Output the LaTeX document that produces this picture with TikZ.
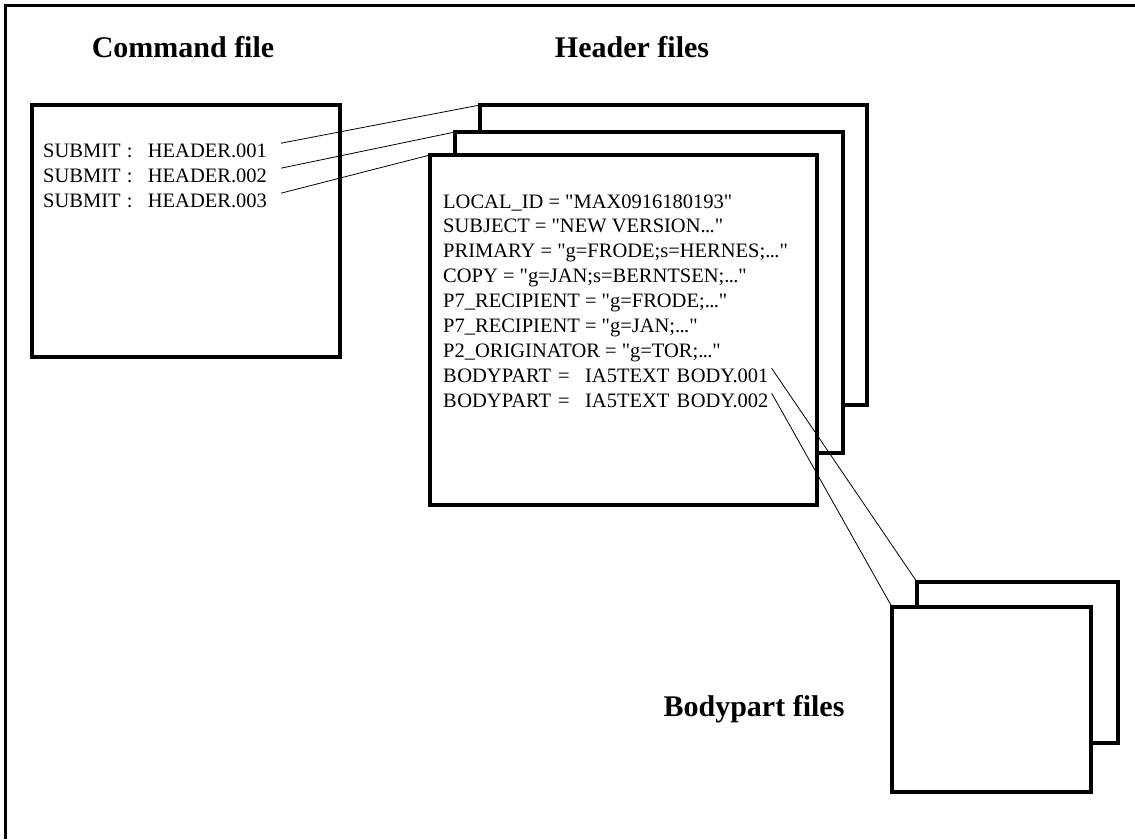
\documentclass[tikz,border=0pt]{standalone}
\usepackage{fontspec}
\setmainfont{Liberation Serif}[Ligatures=TeXOff]
\tikzset{
  filebox/.style={draw, line width=4pt, fill=white, inner sep=0pt, outer sep=0pt, anchor=north west},
  conn/.style={line width=0.8pt},
  txt/.style={font=\fontsize{20.5}{24}\selectfont, inner sep=0pt, anchor=base west},
  title/.style={font=\fontsize{30}{36}\selectfont\bfseries, inner sep=0pt}
}
\newcommand{\dotsx}{.\kern-0.6pt.\kern-0.6pt.}
\begin{document}
\begin{tikzpicture}[x=1pt,y=-1pt]
\useasboundingbox (0,0) rectangle (1135,839);
\draw[line width=3pt] (5.5,839) -- (5.5,5.5) -- (1135,5.5);

% titles
\node[title] (t1) at (183,47) {Command file};
\node[title] (t2) at (632,47) {Header files};
\node[title] (t3) at (754,709) {Bodypart files};

% command file
\node[filebox, minimum width=308pt, minimum height=252pt] (cmd) at (32,105) {};
\node[txt] (c1) at (43,157) {SUBMIT\hspace{0.3em}:\hspace{0.75em}HEADER.001};
\node[txt] (c2) at (43,182) {SUBMIT\hspace{0.3em}:\hspace{0.75em}HEADER.002};
\node[txt] (c3) at (43,207) {SUBMIT\hspace{0.3em}:\hspace{0.75em}HEADER.003};

% header files
\node[filebox, minimum width=387pt, minimum height=300pt] (h1) at (480,105) {};
\node[filebox, minimum width=388pt, minimum height=321pt] (h2) at (455,132) {};
\node[filebox, minimum width=387pt, minimum height=350pt] (h3) at (430,155) {};
\node[txt] (l1) at (443,208) {LOCAL\_ID = "MAX0916180193"};
\node[txt] (l2) at (443,232.9) {SUBJECT = "NEW VERSION\dotsx"};
\node[txt] (l3) at (443,257.8) {PRIMARY = "g=FRODE;s=HERNES;\dotsx"};
\node[txt] (l4) at (443,282.6) {COPY = "g=JAN;s=BERNTSEN;\dotsx"};
\node[txt] (l5) at (443,307.5) {P7\_RECIPIENT = "g=FRODE;\dotsx"};
\node[txt] (l6) at (443,332.4) {P7\_RECIPIENT = "g=JAN;\dotsx"};
\node[txt] (l7) at (443,357.3) {P2\_ORIGINATOR = "g=TOR;\dotsx"};
\node[txt] (l8) at (443,382.1) {B\kern0.5pt ODYPART\hspace{0.35em}=\hspace{0.75em}IA5TEXT\hspace{0.35em}B\kern0.5pt ODY.001};
\node[txt] (l9) at (443,407) {B\kern0.5pt ODYPART\hspace{0.35em}=\hspace{0.75em}IA5TEXT\hspace{0.35em}B\kern0.5pt ODY.002};

% body part files
\node[filebox, minimum width=201pt, minimum height=161pt] (b1) at (917,582) {};
\node[filebox, minimum width=199pt, minimum height=185pt] (b2) at (892,607) {};

% connectors
\draw[conn] ([xshift=14pt]c1.north east) -- (h1.north west);
\draw[conn] ([xshift=14pt]c2.north east) -- (h2.north west);
\draw[conn] ([xshift=14pt]c3.north east) -- (h3.north west);
\draw[conn] ([xshift=3pt]l8.north east) -- (b1.north west);
\draw[conn] ([xshift=3pt]l9.north east) -- (b2.north west);
\end{tikzpicture}
\end{document}
